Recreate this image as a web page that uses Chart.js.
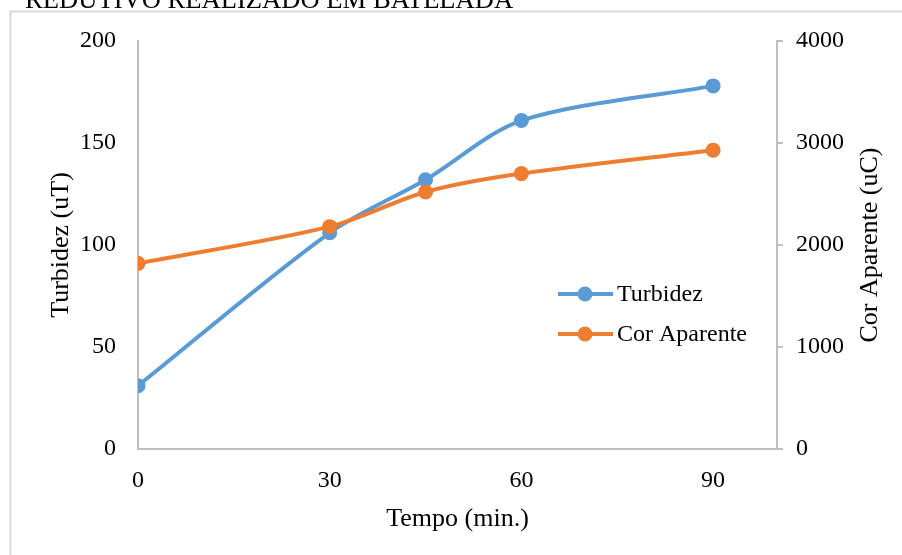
<!DOCTYPE html>
<html>
<head>
<meta charset="utf-8">
<script src="https://cdn.jsdelivr.net/npm/chart.js@4"></script>
<style>
  html, body { margin: 0; padding: 0; background: #fff; }
  #wrap { width: 902px; height: 555px; }
</style>
</head>
<body>
<div id="wrap"><canvas id="chart-turbidez" width="902" height="555"></canvas></div>
<script>
const tempo = [0, 30, 45, 60, 90];
const turbidez = [31, 106, 132, 161, 178];
const corAparente = [1820, 2180, 2520, 2700, 2930];
const xTicks = [0, 30, 60, 90];

const serif = "'Liberation Serif', 'Times New Roman', serif";
const blue = "#5b9bd5";
const orange = "#ed7d31";
const axisGray = "#bfbfbf";

const toPoints = (ys) => tempo.map((t, i) => ({ x: t, y: ys[i] }));

// frame, cut-off heading, right title and legend drawn by hand
const extras = {
  id: "extras",
  beforeDraw(chart) {
    const c = chart.ctx;
    c.save();
    c.fillStyle = "#fff";
    c.fillRect(0, 0, chart.width, chart.height);
    c.strokeStyle = "#d9d9d9";
    c.lineWidth = 2;
    c.strokeRect(10.5, 11.5, 2000, 2000);
    c.fillStyle = "#000";
    c.font = "26.6px " + serif;
    c.textBaseline = "alphabetic";
    c.fillText("REDUTIVO REALIZADO EM BATELADA", 25, 7.5);
    c.restore();
  },
  afterDraw(chart) {
    const c = chart.ctx;
    const area = chart.chartArea;
    c.save();
    c.fillStyle = "#000";
    c.font = "26px " + serif;
    c.textAlign = "center";
    c.textBaseline = "middle";
    c.translate(870, (area.top + area.bottom) / 2);
    c.rotate(-Math.PI / 2);
    c.fillText("Cor Aparente (uC)", 0, 0);
    c.restore();

    const rows = [
      { label: chart.data.datasets[0].label, color: blue, y: 294 },
      { label: chart.data.datasets[1].label, color: orange, y: 334 },
    ];
    c.save();
    c.font = "24px " + serif;
    c.textBaseline = "middle";
    rows.forEach((r) => {
      c.strokeStyle = r.color;
      c.lineWidth = 4;
      c.beginPath();
      c.moveTo(558, r.y);
      c.lineTo(613, r.y);
      c.stroke();
      c.fillStyle = r.color;
      c.beginPath();
      c.arc(585, r.y, 7.5, 0, Math.PI * 2);
      c.fill();
      c.fillStyle = "#000";
      c.fillText(r.label, 617, r.y + 1);
    });
    c.restore();
  },
};

new Chart(document.getElementById("chart-turbidez"), {
  type: "line",
  data: {
    datasets: [
      {
        label: "Turbidez",
        data: toPoints(turbidez),
        borderColor: blue,
        backgroundColor: blue,
        borderWidth: 4,
        pointRadius: 7.5,
        pointBorderWidth: 0,
        tension: 0.3,
        yAxisID: "y",
        order: 1,
      },
      {
        label: "Cor Aparente",
        data: toPoints(corAparente),
        borderColor: orange,
        backgroundColor: orange,
        borderWidth: 4,
        pointRadius: 7.5,
        pointBorderWidth: 0,
        tension: 0.3,
        yAxisID: "y1",
        order: 0,
      },
    ],
  },
  plugins: [extras],
  options: {
    responsive: false,
    animation: false,
    layout: { padding: { left: 10, right: 10, top: 41, bottom: 10 } },
    plugins: {
      legend: { display: false },
      tooltip: { enabled: false },
    },
    scales: {
      x: {
        type: "linear",
        min: 0,
        max: 100,
        afterFit: (s) => { s.height = 96; },
        afterBuildTicks: (s) => { s.ticks = xTicks.map((v) => ({ value: v })); },
        ticks: {
          color: "#000",
          font: { family: serif, size: 24 },
          padding: 9,
          maxRotation: 0,
        },
        grid: { display: false },
        border: { display: true, color: axisGray, width: 2 },
        title: {
          display: true,
          text: "Tempo (min.)",
          color: "#000",
          font: { family: serif, size: 26 },
          padding: { top: 0, bottom: 10 },
        },
      },
      y: {
        position: "left",
        min: 0,
        max: 200,
        afterFit: (s) => { s.width = 128; },
        ticks: {
          stepSize: 50,
          color: "#000",
          font: { family: serif, size: 24 },
          padding: 14,
        },
        grid: { display: false },
        border: { display: true, color: axisGray, width: 2 },
        title: {
          display: true,
          text: "Turbidez (uT)",
          color: "#000",
          font: { family: serif, size: 26 },
          padding: { top: 36, bottom: 0 },
        },
      },
      y1: {
        position: "right",
        min: 0,
        max: 4000,
        afterFit: (s) => { s.width = 115; },
        ticks: {
          stepSize: 1000,
          color: "#000",
          font: { family: serif, size: 24 },
          padding: 13,
          callback: (v) => String(v),
        },
        grid: {
          display: true,
          drawOnChartArea: false,
          drawTicks: true,
          tickLength: 6,
          color: axisGray,
          lineWidth: 2,
        },
        border: { display: true, color: axisGray, width: 2 },
      },
    },
  },
});
</script>
</body>
</html>
